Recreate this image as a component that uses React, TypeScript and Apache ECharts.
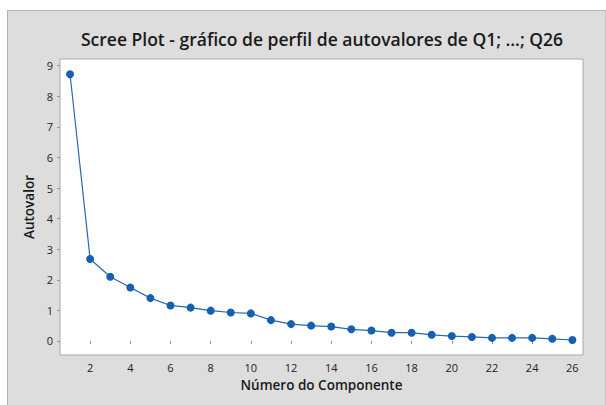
import React, { useEffect, useRef } from "react";
import * as echarts from "echarts";

const components = [1, 2, 3, 4, 5, 6, 7, 8, 9, 10, 11, 12, 13, 14, 15, 16, 17, 18, 19, 20, 21, 22, 23, 24, 25, 26];
const eigenvalues = [8.72, 2.68, 2.10, 1.75, 1.40, 1.16, 1.09, 0.99, 0.93, 0.90, 0.68, 0.55, 0.50, 0.47, 0.38, 0.34, 0.27, 0.27, 0.20, 0.16, 0.13, 0.10, 0.10, 0.10, 0.07, 0.03];
const xTicks = [2, 4, 6, 8, 10, 12, 14, 16, 18, 20, 22, 24, 26];
const yTicks = [0, 1, 2, 3, 4, 5, 6, 7, 8, 9];

const FONT = "'Open Sans', 'Noto Sans', sans-serif";

export default function App() {
  const ref = useRef<HTMLDivElement>(null);
  useEffect(() => {
    if (!ref.current) return;
    const chart = echarts.init(ref.current, null, { renderer: "svg" });
    chart.setOption({
      animation: false,
      backgroundColor: "transparent",
      title: {
        text: "Scree Plot - gráfico de perfil de autovalores de Q1; ...; Q26",
        left: 317,
        textAlign: "center",
        top: 25,
        textStyle: { fontFamily: FONT, fontSize: 17.5, fontWeight: 600, color: "#1a1a1a" },
      },
      grid: {
        left: 60,
        right: 23,
        top: 59,
        bottom: 50,
        show: true,
        backgroundColor: "#ffffff",
        borderColor: "#a9a9a9",
        borderWidth: 1,
      },
      xAxis: {
        type: "value",
        min: 0.5,
        max: 26.53,
        name: "Número do Componente",
        nameLocation: "middle",
        nameGap: 23,
        nameTextStyle: { fontFamily: FONT, fontSize: 13.5, fontWeight: 600, color: "#1a1a1a" },
        axisLine: { show: false },
        axisTick: { show: true, length: 3, lineStyle: { color: "#909090" }, customValues: xTicks },
        axisLabel: { fontFamily: FONT, fontSize: 11, color: "#222", margin: 7, customValues: xTicks },
        splitLine: { show: false },
      },
      yAxis: {
        type: "value",
        min: -0.46,
        max: 9.22,
        name: "Autovalor",
        nameLocation: "middle",
        nameGap: 21,
        nameTextStyle: { fontFamily: FONT, fontSize: 13.5, fontWeight: 600, color: "#1a1a1a" },
        axisLine: { show: false },
        axisTick: { show: true, length: 3, lineStyle: { color: "#909090" }, customValues: yTicks },
        axisLabel: { fontFamily: FONT, fontSize: 11, color: "#222", margin: 7, customValues: yTicks },
        splitLine: { show: false },
      },
      series: [
        {
          type: "line",
          data: components.map((c, i) => [c, eigenvalues[i]]),
          symbol: "circle",
          symbolSize: 8,
          lineStyle: { color: "#2a67b0", width: 1.2 },
          itemStyle: { color: "#1560b0" },
        },
      ],
    });
    return () => chart.dispose();
  }, []);
  return (
    <div style={{ position: "fixed", left: 0, top: 0, width: 606, height: 405, background: "#ffffff" }}>
      <div
        style={{
          position: "absolute",
          left: 7,
          top: 10,
          width: 597,
          height: 395,
          background: "#dcdddc",
          borderLeft: "1px solid #b4b4b4",
          borderTop: "1px solid #b4b4b4",
          borderRight: "1px solid #c4c4c4",
        }}
      />
      <div ref={ref} style={{ position: "absolute", left: 0, top: 0, width: 606, height: 405 }} />
    </div>
  );
}
